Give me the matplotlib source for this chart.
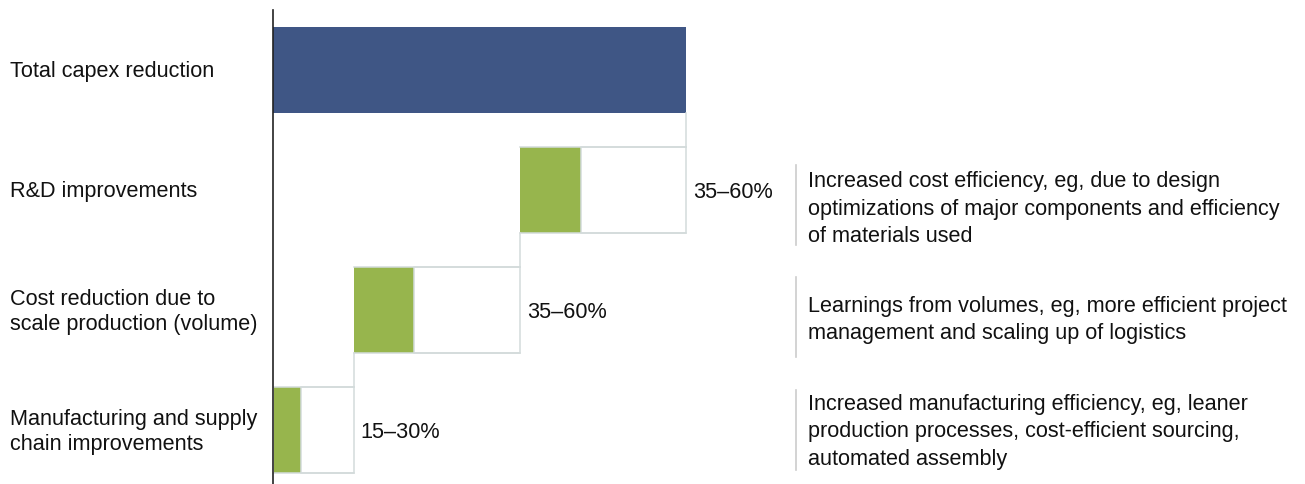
import matplotlib.pyplot as plt

plt.rcParams['font.family'] = ['Liberation Sans', 'DejaVu Sans']

# data (share of total capex reduction, total = 100)
categories = ['Total capex reduction', 'R&D improvements',
              'Cost reduction due to\nscale production (volume)',
              'Manufacturing and supply\nchain improvements']
total = 100
low_part = [14.7, 14.7, 6.5]      # green part, order: R&D, volume, manufacturing
high_part = [25.6, 25.5, 12.7]    # white remainder of the range
range_labels = ['35–60%', '35–60%', '15–30%']
descriptions = [
    'Increased cost efficiency, eg, due to design\noptimizations of major components and efficiency\nof materials used',
    'Learnings from volumes, eg, more efficient project\nmanagement and scaling up of logistics',
    'Increased manufacturing efficiency, eg, leaner\nproduction processes, cost-efficient sourcing,\nautomated assembly',
]

navy = '#3f5685'
green = '#97b54d'
edge = '#d3dbdb'
txt = '#111111'
fs = 15.6

fig = plt.figure(figsize=(13.05, 4.84), dpi=100)
ax = fig.add_axes([273 / 1305, 0, 1 - 273 / 1305, 1 - 10 / 484])
h = 86 / 120

ax.barh(0, total, height=h, color=navy, edgecolor='none')

# waterfall steps, ending at the total
ends = []
right = total
for i in range(3):
    ends.append(right)
    right = right - low_part[i] - high_part[i]
for i in range(3):
    y = i + 1
    left = ends[i] - low_part[i] - high_part[i]
    ax.barh(y, low_part[i], left=left, height=h, color=green, edgecolor='none')
    ax.barh(y, high_part[i], left=left + low_part[i], height=h, color='white',
            edgecolor=edge, linewidth=1.1)
    # outline around whole step
    ax.plot([left, ends[i]], [y - h / 2, y - h / 2], color=edge, lw=1.1, zorder=1)
    ax.plot([left, ends[i]], [y + h / 2, y + h / 2], color=edge, lw=1.1, zorder=1)
    # connector from previous bar
    ax.plot([ends[i], ends[i]], [y - 1 + h / 2, y - h / 2], color=edge, lw=1.1)
    ax.annotate(range_labels[i], (ends[i], y), xytext=(5, -1.5), textcoords='offset points',
                ha='left', va='center', fontsize=fs, color=txt)

ax.set_xlim(0, 1032 / 413.4 * 100)
ax.set_ylim(3.45, -0.5)
for s in ['top', 'right', 'bottom']:
    ax.spines[s].set_visible(False)
ax.spines['left'].set_color('#222222')
ax.spines['left'].set_linewidth(1.2)
ax.set_xticks([])
ax.set_yticks([])

# category labels
for i, c in enumerate(categories):
    y_fig = 1 - (72 + 120 * i) / 484
    fig.text(10 / 1305, y_fig, c, ha='left', va='center', fontsize=fs, color=txt,
             linespacing=1.28)

# descriptions with a thin separator line
line_offset = [15, 7, 0]
text_offset = [19, 10, 2]
for i, d in enumerate(descriptions):
    yl = 70 + 120 * (i + 1) + line_offset[i]
    yt = 70 + 120 * (i + 1) + text_offset[i]
    fig.text(808 / 1305, 1 - yt / 484, d, ha='left', va='center', fontsize=fs,
             color=txt, linespacing=1.38)
    fig.add_artist(plt.Line2D([796 / 1305, 796 / 1305],
                              [1 - (yl - 40) / 484, 1 - (yl + 40) / 484],
                              color='#cccccc', lw=1.2))

fig.savefig('out.png', dpi=100)
